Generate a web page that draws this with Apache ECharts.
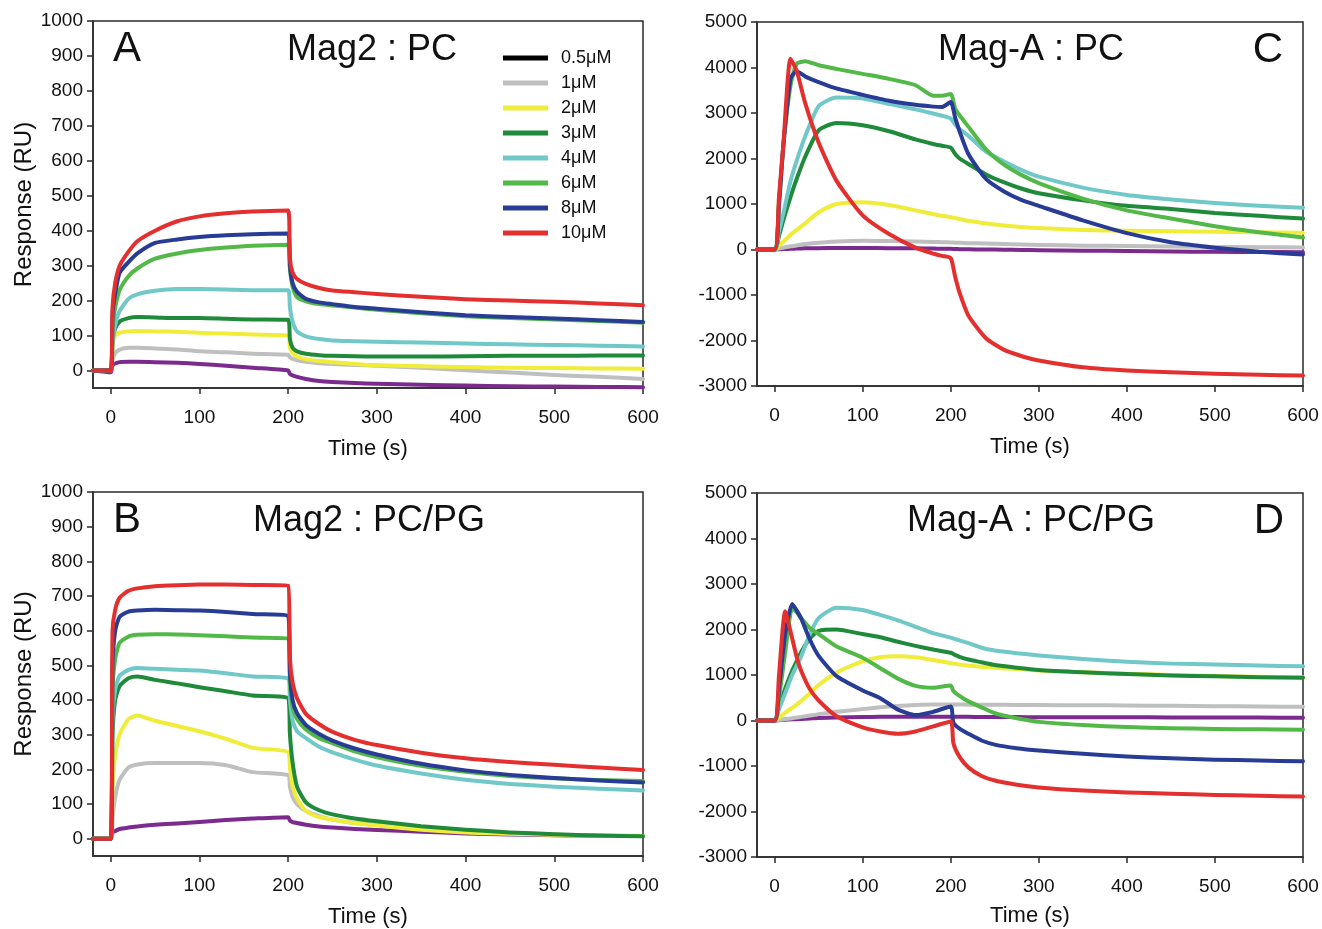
<!DOCTYPE html>
<html>
<head>
<meta charset="utf-8">
<script src="https://cdn.jsdelivr.net/npm/echarts@6/dist/echarts.min.js"></script>
<style>
html,body{margin:0;padding:0;background:#fff;}
#chart{width:1322px;height:929px;}
</style>
</head>
<body>
<div id="chart"></div>
<script>
// ---------- data ----------
const concentrations = ['0.5μM','1μM','2μM','3μM','4μM','6μM','8μM','10μM'];
const lineColors = ['#7b2a8e','#bfbfbf','#f0ec3a','#1f8a3a','#70c8c8','#52b848','#283c96','#e3302f'];
const legendColors = ['#000000','#bfbfbf','#f0ec3a','#1f8a3a','#70c8c8','#52b848','#283c96','#e3302f'];

const xTicks = [0,100,200,300,400,500,600];
const yTicksMag2 = [0,100,200,300,400,500,600,700,800,900,1000];
const yTicksMagA = [-3000,-2000,-1000,0,1000,2000,3000,4000,5000];

// Panel A & B time base (s)
const timeAB = [-20,0,2,5,10,20,30,50,75,100,130,160,200,202,205,210,220,235,250,275,300,350,400,450,500,550,600];
// Panel A : Mag2 : PC
const a05 = [0,-5,15,20,24,25,25,24,22,19,14,8,0,-10,-14,-18,-24,-30,-33,-36,-38,-41,-43,-45,-46,-47,-48];
const a1  = [0,0,30,50,60,65,65,63,60,55,52,48,45,38,33,30,25,21,19,16,14,8,1,-6,-13,-18,-24];
const a2  = [0,0,70,100,108,112,113,112,111,108,106,103,100,65,50,40,32,27,24,19,15,12,10,8,7,6,5];
const a3  = [0,0,90,120,140,150,153,152,150,150,148,146,145,90,65,55,48,44,42,41,40,40,41,42,42,43,43];
const a4  = [0,0,80,130,170,205,218,228,233,233,232,230,230,180,140,112,98,90,86,84,82,80,77,75,73,71,69];
const a6  = [0,0,120,180,230,270,292,320,335,345,352,357,360,290,240,210,198,190,186,180,174,164,155,150,146,142,137];
const a8  = [0,0,160,220,280,310,335,365,375,382,387,390,392,300,250,225,205,195,190,182,177,167,158,153,149,144,139];
const a10 = [0,0,180,250,300,340,370,400,427,441,450,455,458,320,280,262,248,236,229,224,219,211,204,200,197,192,187];
// Panel B : Mag2 : PC/PG
const b05 = [0,0,18,22,28,32,35,40,44,48,54,58,62,52,48,45,40,35,32,28,25,20,15,12,10,8,8];
const b1  = [0,0,60,120,170,205,214,218,218,218,212,192,183,150,120,100,80,65,55,45,40,30,20,15,12,9,8];
const b2  = [0,0,150,240,300,345,355,340,325,310,288,262,250,205,150,115,80,62,55,45,38,26,18,14,11,9,8];
const b3  = [0,0,300,400,440,463,468,458,448,437,425,413,405,300,220,150,105,82,70,58,50,36,26,18,13,9,7];
const b4  = [0,0,350,430,470,487,492,490,487,485,477,468,462,400,340,310,290,265,249,228,211,188,170,158,150,144,139];
const b6  = [0,0,430,520,565,583,588,590,589,587,584,580,577,450,380,345,315,290,275,252,235,210,193,181,174,169,166];
const b8  = [0,0,500,600,640,655,658,660,659,658,654,648,642,480,400,362,328,302,283,260,243,216,197,184,175,168,162];
const b10 = [0,0,600,660,695,715,722,728,731,733,733,732,730,520,450,405,360,330,308,285,270,248,232,221,213,205,198];

// Panel C : Mag-A : PC
const timeC = [-20,0,5,10,18,25,35,50,70,100,130,160,180,190,200,205,210,220,240,260,280,300,350,400,450,500,550,600];
const c05 = [0,0,5,10,15,20,25,30,35,35,30,25,20,18,15,10,8,5,0,-5,-10,-15,-25,-35,-45,-50,-55,-60];
const c1  = [0,0,20,40,70,90,120,150,175,190,185,175,165,160,155,150,148,140,130,120,110,100,85,75,65,55,50,45];
const c2  = [0,0,80,170,320,430,580,820,1000,1040,980,860,780,740,710,690,670,630,570,530,495,470,430,410,400,390,380,370];
const c3  = [0,0,300,650,1150,1550,2050,2620,2780,2730,2600,2420,2320,2280,2240,2100,2000,1880,1650,1480,1340,1235,1080,960,890,800,740,680];
const c4  = [0,0,400,800,1500,1950,2500,3150,3340,3320,3200,3080,2990,2940,2880,2750,2650,2500,2150,1940,1750,1600,1360,1200,1100,1020,960,920];
const c6  = [0,0,1000,2300,3600,4080,4140,4050,3970,3860,3750,3610,3380,3380,3420,3100,2950,2700,2200,1870,1640,1460,1120,860,680,510,380,265];
const c8  = [0,0,1000,2300,3750,3920,3800,3680,3540,3400,3270,3180,3140,3130,3240,2900,2600,2100,1550,1280,1090,960,640,360,160,40,-50,-110];
const c10 = [0,0,1170,2330,4190,3930,3200,2350,1520,750,340,40,-90,-140,-190,-600,-950,-1450,-1950,-2200,-2340,-2440,-2590,-2660,-2700,-2730,-2755,-2770];

// Panel D : Mag-A : PC/PG
const timeD = [-20,0,5,12,20,25,30,40,50,70,100,120,140,160,180,200,203,210,220,235,250,275,300,350,400,450,500,550,600];
const d05 = [0,0,5,15,25,30,35,45,55,65,75,80,80,80,80,80,80,80,80,78,76,75,73,72,70,68,66,64,60];
const d1  = [0,0,10,30,50,65,80,110,140,190,250,290,320,340,350,350,350,350,348,346,345,343,340,335,330,322,315,308,300];
const d2  = [0,0,60,170,280,350,430,600,780,1050,1300,1390,1410,1390,1330,1260,1250,1230,1210,1180,1160,1130,1100,1060,1030,1000,980,960,950];
const d3  = [0,0,300,700,1100,1300,1500,1800,1970,2000,1900,1830,1730,1640,1560,1490,1460,1400,1340,1280,1220,1160,1110,1060,1020,990,970,950,940];
const d4  = [0,0,250,600,1000,1200,1400,1900,2250,2480,2430,2320,2200,2060,1920,1820,1800,1760,1700,1600,1540,1480,1430,1350,1290,1250,1230,1210,1190];
const d6  = [0,0,500,1500,2480,2380,2250,2030,1900,1630,1380,1150,920,760,720,770,650,540,420,290,160,50,-30,-100,-145,-170,-185,-195,-205];
const d8  = [0,0,700,1900,2560,2420,2250,1780,1420,980,660,490,240,120,190,310,-50,-180,-290,-440,-530,-610,-660,-730,-790,-830,-860,-880,-895];
const d10 = [0,0,1000,2400,1800,1400,1100,690,440,100,-150,-240,-290,-240,-130,-20,-500,-800,-1030,-1220,-1320,-1410,-1470,-1540,-1580,-1610,-1635,-1655,-1670];

const panels = [
  {time: timeAB, values: [a05,a1,a2,a3,a4,a6,a8,a10]},
  {time: timeAB, values: [b05,b1,b2,b3,b4,b6,b8,b10]},
  {time: timeC,  values: [c05,c1,c2,c3,c4,c6,c8,c10]},
  {time: timeD,  values: [d05,d1,d2,d3,d4,d6,d8,d10]}
];

// ---------- chart ----------
const FONT = '"Liberation Sans", Arial, Helvetica, sans-serif';
const chart = echarts.init(document.getElementById('chart'), null, {renderer: 'canvas'});

const grids = [
  {left: 93,  top: 21,  width: 550, height: 367},
  {left: 93,  top: 492, width: 550, height: 366},
  {left: 757, top: 22,  width: 546, height: 364},
  {left: 757, top: 493, width: 546, height: 364}
].map(g => Object.assign({show: true, borderColor: '#2a2a2a', borderWidth: 1.5, backgroundColor: 'transparent', containLabel: false}, g));

const axisCommon = {
  axisLine: {show: true, onZero: false, lineStyle: {color: '#2a2a2a', width: 1.5}},
  splitLine: {show: false},
  axisTick: {show: true, inside: false, length: 6, lineStyle: {color: '#2a2a2a', width: 1.5}}
};
const plain = v => String(v);

const xAxes = [0,1,2,3].map(i => Object.assign({}, axisCommon, {
  gridIndex: i, type: 'value', min: -20, max: 600,
  name: 'Time (s)', nameLocation: 'middle', nameGap: (i === 3 ? 48 : 50),
  nameTextStyle: {fontFamily: FONT, fontSize: 22, color: '#111'},
  axisTick: Object.assign({}, axisCommon.axisTick, {customValues: xTicks}),
  axisLabel: {customValues: xTicks, formatter: plain, fontFamily: FONT, fontSize: 19, color: '#111', margin: 20}
}));

const yAxes = [0,1,2,3].map(i => {
  const mag2 = i < 2;
  const ticks = mag2 ? yTicksMag2 : yTicksMagA;
  return Object.assign({}, axisCommon, {
    gridIndex: i, type: 'value',
    min: mag2 ? -50 : -3000, max: mag2 ? 1000 : 5000,
    name: mag2 ? 'Response (RU)' : '', nameLocation: 'middle', nameGap: 54,
    nameTextStyle: {fontFamily: FONT, fontSize: 24, color: '#111'},
    axisTick: Object.assign({}, axisCommon.axisTick, {customValues: ticks}),
    axisLabel: {customValues: ticks, formatter: plain, fontFamily: FONT, fontSize: 19, color: '#111', margin: 10}
  });
});

const series = [];
panels.forEach((p, pi) => {
  p.values.forEach((vals, si) => {
    series.push({
      type: 'line', name: concentrations[si],
      xAxisIndex: pi, yAxisIndex: pi,
      data: p.time.map((t, k) => [t, vals[k]]),
      showSymbol: false, symbol: 'none', smooth: 0.2,
      lineStyle: {color: lineColors[si], width: 4, join: 'round', cap: 'round'},
      itemStyle: {color: lineColors[si]},
      clip: true, silent: true, z: 2 + si
    });
  });
});

function txt(x, y, s, size, align) {
  return {type: 'text', x: x, y: y, silent: true, z: 100,
    style: {text: s, font: size + 'px ' + FONT, fill: '#111', align: align || 'center', verticalAlign: 'middle'}};
}

const option = {
  animation: false,
  backgroundColor: '#ffffff',
  grid: grids,
  xAxis: xAxes,
  yAxis: yAxes,
  legend: {
    orient: 'vertical', left: 503, top: 49, padding: 0,
    icon: 'rect', itemWidth: 45, itemHeight: 5, itemGap: 7,
    selectedMode: false,
    textStyle: {fontFamily: FONT, fontSize: 18, color: '#111', padding: [0, 0, 0, 8]},
    data: concentrations.map((n, i) => ({name: n, itemStyle: {color: legendColors[i]}}))
  },
  graphic: [
    txt(127, 49, 'A', 42),
    txt(372, 50, 'Mag2 : PC', 36),
    txt(127, 520, 'B', 42),
    txt(369, 521, 'Mag2 : PC/PG', 36),
    txt(1031, 50, 'Mag-A : PC', 36),
    txt(1268, 50, 'C', 42),
    txt(1031, 521, 'Mag-A : PC/PG', 36),
    txt(1269, 521, 'D', 42)
  ],
  series: series
};
chart.setOption(option);
</script>
</body>
</html>
